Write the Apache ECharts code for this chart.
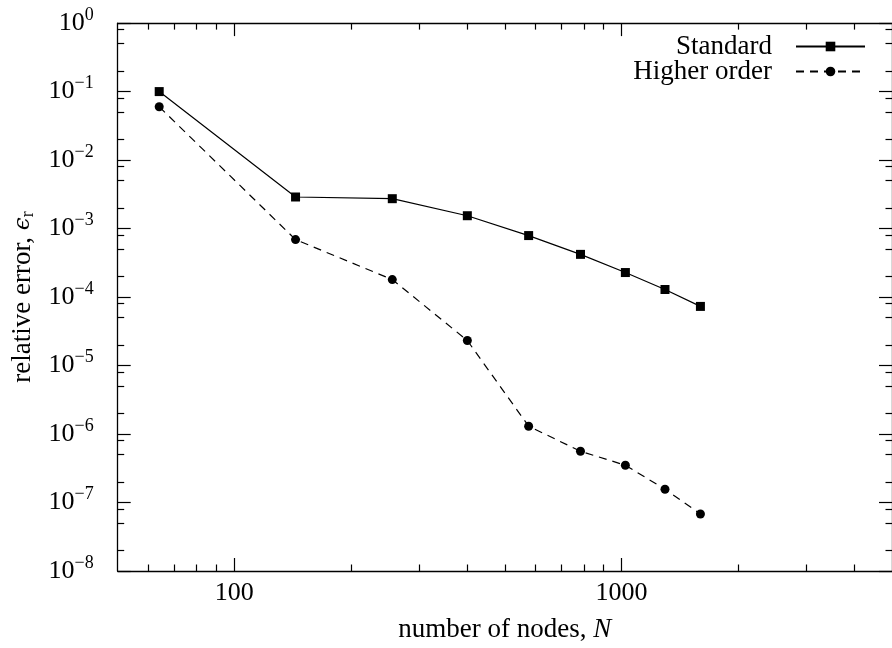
<!DOCTYPE html>
<html>
<head>
<meta charset="utf-8">
<script src="https://cdn.jsdelivr.net/npm/echarts@6/dist/echarts.min.js"></script>
<style>
  html, body { margin: 0; padding: 0; background: #ffffff; }
  #chart { width: 892px; height: 648px; }
</style>
</head>
<body>
<div id="chart"></div>
<script>
// Convergence of the relative error with the number of nodes
const nodes = [64, 144, 256, 400, 576, 784, 1024, 1296, 1600];
const errStandard = [1.0e-1, 2.89e-3, 2.73e-3, 1.54e-3, 7.9e-4, 4.2e-4, 2.28e-4, 1.29e-4, 7.3e-5];
const errHigher = [6.0e-2, 6.9e-4, 1.80e-4, 2.32e-5, 1.30e-6, 5.6e-7, 3.5e-7, 1.56e-7, 6.8e-8];

const seriesNames = ['Standard', 'Higher order'];

// Tick positions on both logarithmic axes
const xMajorTicks = [100, 1000];
const xMinorTicks = [60, 70, 80, 90, 200, 300, 400, 500, 600, 700, 800, 900, 2000, 3000, 4000];
const yMajorTicks = [1e0, 1e-1, 1e-2, 1e-3, 1e-4, 1e-5, 1e-6, 1e-7, 1e-8];
const yMinorTicks = [
  8e-1, 5e-1, 2e-1, 8e-2, 5e-2, 2e-2, 8e-3, 5e-3, 2e-3, 8e-4, 5e-4, 2e-4,
  8e-5, 5e-5, 2e-5, 8e-6, 5e-6, 2e-6, 8e-7, 5e-7, 2e-7, 8e-8, 5e-8, 2e-8
];

const FONT = 'Liberation Serif';
const INK = '#000000';

function toPairs(xs, ys) {
  return xs.map((x, i) => [x, ys[i]]);
}

function powerLabel(v) {
  const e = Math.round(Math.log10(v));
  const exp = e < 0 ? '\u2212' + (-e) : String(e);
  return '{b|10}{s|' + exp + '}';
}

const tickStyleMajor = { show: true, inside: true, length: 13, lineStyle: { color: INK, width: 1.2 } };
const tickStyleMinor = { show: true, inside: true, length: 6.5, lineStyle: { color: INK, width: 1.2 } };

function xAxisDef(position, major, withLabels) {
  return {
    type: 'log',
    logBase: 10,
    min: 50,
    max: 5000,
    position: position,
    gridIndex: 0,
    axisLine: { show: major, lineStyle: { color: INK, width: 1.3 } },
    axisTick: Object.assign({ customValues: major ? xMajorTicks : xMinorTicks }, major ? tickStyleMajor : tickStyleMinor),
    minorTick: { show: false },
    splitLine: { show: false },
    axisLabel: withLabels ? {
      show: true,
      customValues: xMajorTicks,
      margin: 9,
      color: INK,
      fontFamily: FONT,
      fontSize: 26,
      formatter: v => String(Math.round(v))
    } : { show: false }
  };
}

function yAxisDef(position, major, withLabels) {
  return {
    type: 'log',
    logBase: 10,
    min: 1e-8,
    max: 1,
    position: position,
    gridIndex: 0,
    axisLine: { show: major, lineStyle: { color: INK, width: 1.3 } },
    axisTick: Object.assign({ customValues: major ? yMajorTicks : yMinorTicks }, major ? tickStyleMajor : tickStyleMinor),
    minorTick: { show: false },
    splitLine: { show: false },
    axisLabel: withLabels ? {
      show: true,
      customValues: yMajorTicks,
      margin: 24,
      color: INK,
      formatter: powerLabel,
      rich: {
        b: { fontFamily: FONT, fontSize: 26, lineHeight: 34, color: INK },
        s: { fontFamily: FONT, fontSize: 18, lineHeight: 18, verticalAlign: 'top', color: INK }
      }
    } : { show: false }
  };
}

const xAxes = [
  xAxisDef('bottom', true, true),
  xAxisDef('bottom', false, false),
  xAxisDef('top', true, false),
  xAxisDef('top', false, false)
];
Object.assign(xAxes[0], {
  name: '{a|number of nodes, }{i|N}',
  nameLocation: 'middle',
  nameGap: 45,
  nameTextStyle: {
    rich: {
      a: { fontFamily: FONT, fontSize: 27, color: INK },
      i: { fontFamily: FONT, fontSize: 27, fontStyle: 'italic', color: INK }
    }
  }
});

const yAxes = [
  yAxisDef('left', true, true),
  yAxisDef('left', false, false),
  yAxisDef('right', true, false),
  yAxisDef('right', false, false)
];
Object.assign(yAxes[0], {
  name: '{a|relative error, }{e|\u03F5}{r|r}',
  nameLocation: 'middle',
  nameGap: 77,
  nameRotate: 90,
  nameTextStyle: {
    rich: {
      a: { fontFamily: FONT, fontSize: 27, lineHeight: 30, color: INK },
      e: { fontFamily: 'DejaVu Serif', fontSize: 23, fontStyle: 'italic', lineHeight: 30, color: INK },
      r: { fontFamily: FONT, fontSize: 18, lineHeight: 18, verticalAlign: 'bottom', color: INK }
    }
  }
});

function legendFor(name, top) {
  return {
    data: [name],
    orient: 'vertical',
    align: 'right',
    right: 26,
    top: top,
    padding: 0,
    itemGap: 0,
    itemWidth: 69,
    itemHeight: 12,
    selectedMode: false,
    textStyle: { fontFamily: FONT, fontSize: 27, color: INK, padding: [0, 19, 0, 0] }
  };
}

const option = {
  animation: false,
  backgroundColor: '#ffffff',
  grid: { left: 117.7, top: 23.1, width: 775, height: 548.6, containLabel: false },
  legend: [legendFor(seriesNames[0], 33), legendFor(seriesNames[1], 58)],
  xAxis: xAxes,
  yAxis: yAxes,
  series: [
    {
      name: seriesNames[0],
      type: 'line',
      xAxisIndex: 0,
      yAxisIndex: 0,
      data: toPairs(nodes, errStandard),
      symbol: 'rect',
      symbolSize: 9,
      showSymbol: true,
      lineStyle: { color: INK, width: 1.2, type: 'solid' },
      itemStyle: { color: INK },
      emphasis: { disabled: true }
    },
    {
      name: seriesNames[1],
      type: 'line',
      xAxisIndex: 0,
      yAxisIndex: 0,
      data: toPairs(nodes, errHigher),
      symbol: 'circle',
      symbolSize: 9,
      showSymbol: true,
      lineStyle: { color: INK, width: 1.2, type: [8, 6] },
      itemStyle: { color: INK },
      emphasis: { disabled: true }
    }
  ]
};

const chart = echarts.init(document.getElementById('chart'), null, { renderer: 'canvas' });
chart.setOption(option);
</script>
</body>
</html>
